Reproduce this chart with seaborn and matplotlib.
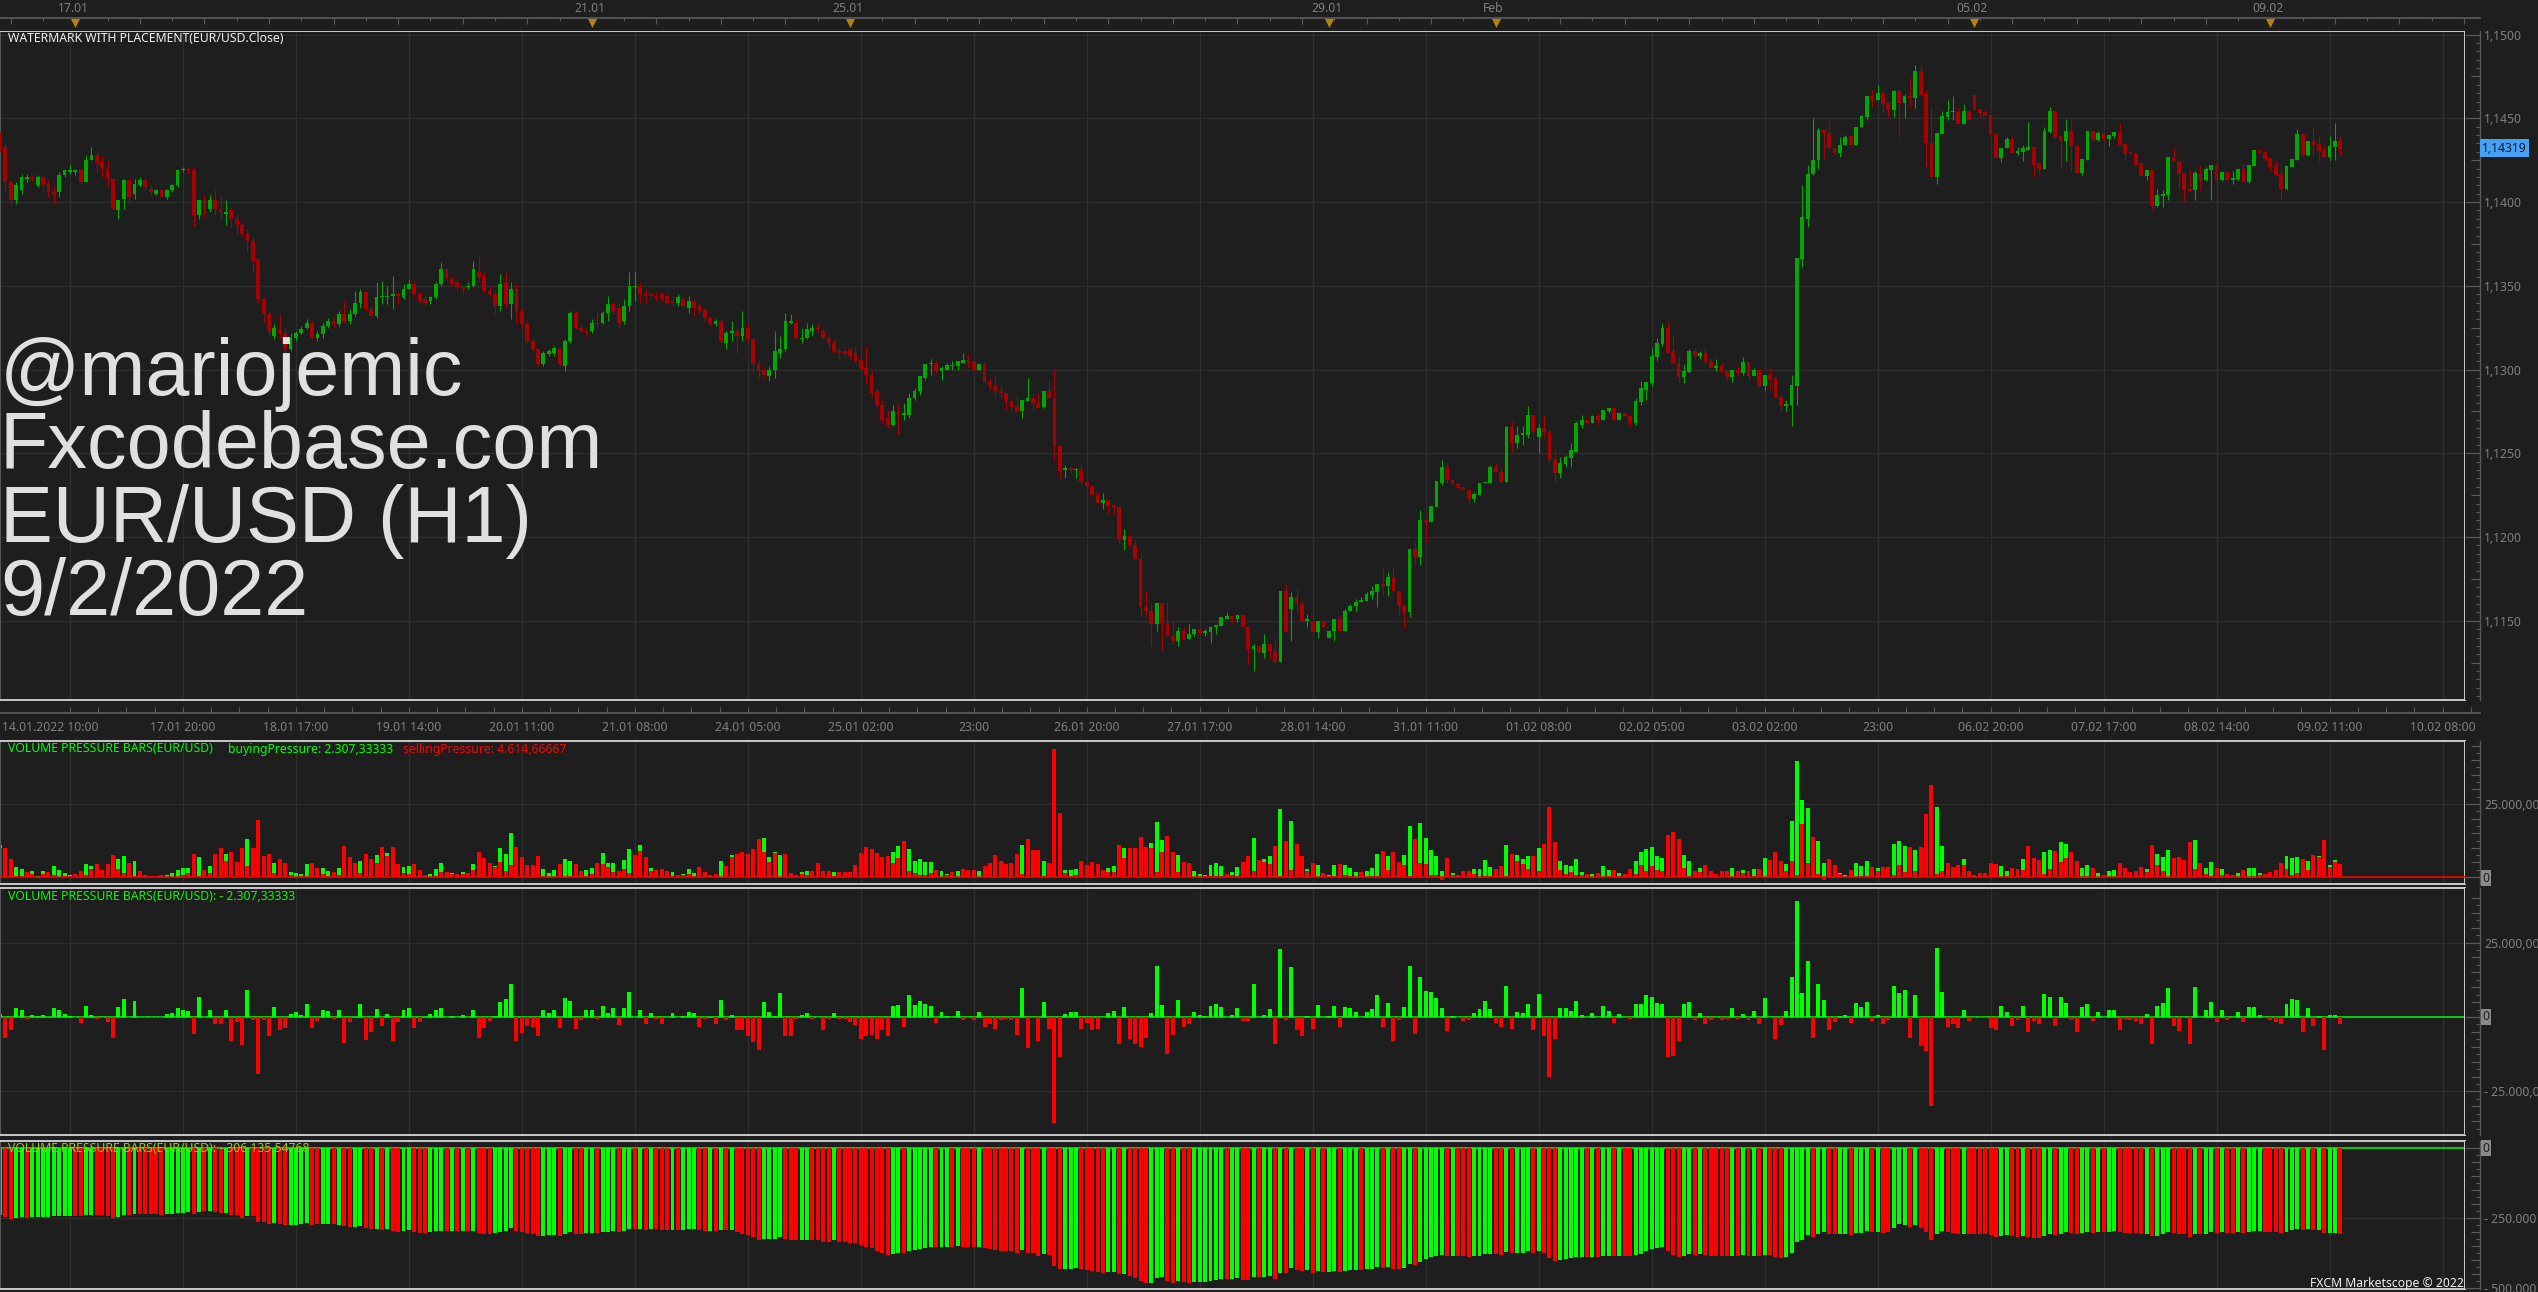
import numpy as np
import pandas as pd
import matplotlib
matplotlib.use("Agg")
import matplotlib.pyplot as plt
import seaborn as sns

# EUR/USD hourly candles, in pips above 1.1000
opens = [441,433,412,401,407,414,415,410,415,411,406,406,416,418,418,419,412,425,428,424,420,414,395,402,413,405,410,413,408,405,407,403,407,410,419,420,419,392,401,396,401,396,393,395,390,386,381,377,366,342,333,320,324,322,312,319,322,325,328,319,321,326,329,327,333,329,333,340,346,336,332,343,343,344,345,343,348,351,345,342,341,343,351,360,354,352,349,349,350,358,356,347,345,338,352,339,348,335,327,317,312,303,309,310,312,302,317,334,325,323,323,328,328,334,339,337,329,338,349,350,345,345,344,345,344,341,340,342,337,341,338,336,331,327,329,316,322,323,320,325,318,303,300,296,300,310,312,328,328,318,319,323,325,323,319,316,311,311,
 312,310,305.5,301,297,287,279,271,267,275,273,273,283,287,295,303,304,299,300,302,302,304,305.5,305,300,304,293,290,287,286,281,278,275,281,283,280,277.5,287,283,254.5,240,241,240,240,233,230.5,225.5,220.5,222,219,218,198,200.5,195.5,186.6,158,156,148,160.5,148.5,141,138,144,139,142,145,142.5,143,146,147,151,153,151,153.5,146,133,135,131,136,132,125.5,168,157,164,160,150,150,143.5,150,140,144,151,144,156,159,161,162,165.5,167,172,171,176,168,159,155,193,188,210,209,218,232,242,234,231.5,230,228,222.5,225,232,232,242,239,233,265.5,256,261,261,273,260,265,263,246,238,243.5,247,251,267,270,268,272,270,275,277,270,274,272.5,268,280.5,288,292,307.5,315,325,311,304,295.5,298.5,
 311,308,310,305,301,302,299,295.5,299.6,298,304.5,296,300,290,296.6,295,283.5,278,279,290,
 366,390,416.5,425,443,441.5,432,429,434,439.5,434,444.5,451,463,461,465,459,455,466,459,463,462,478,464.6,435,414.7,440.7,451,453.5,454,446.7,454.5,464,455.6,453.8,452,440.7,426.4,432,437.8,429.4,430,431.2,433,423,420,442,454.5,439.6,436.6,442.5,433.6,417.5,425.3,442.5,437,441.4,437.8,439.6,442,434.8,429.3,429.4,423,415.7,419.3,397.8,403.8,404.4,427,424.6,417.5,407.9,407.4,417.5,413.3,419.3,422.3,413.3,418,413.3,414,420,412,421.7,431,430,426.4,421.7,417,408,421,425.3,440.8,428.2,436.6,434.8,431.2,427,433,436.6]
closes = [433,412,401,410,415,415,414,415,410,406,405,416,419,419,419,412,425,428,423,420,414,396,401,413,403,411,413,409,406,407,403,407,410,419,420,419,392,401,396,401,396,394,394,390,386,381,377,365,342,333,323,325,322,312,319,322,324,328,319,321,326,329,327,333,329,333,340,346,336,332,343,344,344,345,344,348,351,345,341,340,343,351,360,354,351,349,348,350,360,355,347,345,338,351,339,348,335,327,317,312,303,310,311,313,303,317,334,325,323,322,328,327,334,339,335,328,338,350,350,345,344,344,343,342,340,340,343,338,341,337,335,331,327,329,317,322,323,320,325,318,303,300,297,300,311,312,329,329,319,319,324,325,324,319,316,311,310,309,
 308,305,300.5,297,286,279,270,267,275,273,274,283,287,296,303,304,299,301,302.5,302.5,305,305.5,304,300,303.5,292.5,290,287,286,281,277.5,275,282,283,279.5,277,287,283,254.5,239.5,241,240,240.5,233,230.5,225,220.5,222,218.7,218,198,200.5,195,186.6,158,156,148,160.5,148.5,141,138,144,139,142,145,142.5,144,146,147.5,152,153,151,153.5,146,133,135,131.5,136,132,125.5,167.5,143,164,160,150,151,143.5,150,146,144,151,144,156,159,161,162.5,166,168,172,171,176,168,159,155,193,188,210,209,218.5,233.5,242,234,231.5,229.5,228,222.5,225.5,232,233,242,239,233,265.5,256,261,262,273,263.5,265,262.5,246,238,244,248,252,268,270,268,272,270,276,277,270,274,272,268,281,289,292.5,308,316,325,310,304,295.5,299,311,
 308,310,304.5,301,302,298.5,295.5,299.6,298,304.5,296,300,290,296.6,294,283,278,279.3,290.6,366.4,
 391,417,425,443,441.5,432,429,434,439,434,445,451.5,463,461,465,458.6,455,466,459,463,462,478,464,435,414.7,441,451.5,454,454,446.7,454.5,449,455,453,451.5,440,426.4,432.4,437.8,429.4,430.6,432,433,422,420,442.5,454.5,438.4,436.6,442.5,433.6,417.5,425.8,442.5,437,441.4,437.8,440,442,434,428.8,428.9,422.3,415.5,419.3,397.8,404.4,405,427,424.6,416.9,407.4,406.7,417.5,413.3,419.9,422.3,413.3,418,413.3,414.5,420,412,422.3,431,429.4,425.8,421,416.3,408,421.7,425.8,440.8,428.2,436.6,434.2,430.6,427,433.6,436.6,431.9]
highs = [442,435,413,412,417,417,416,416,415,413,410,418,420,422,420,420,428,433,430,428,425,414,401,414,414,414,415,414,410,408,408,408,411,420,421,421,421,401,404,404,407,404,401,397,392,388,384,380,366,343,335,327,333,325,322,323,326,330,329,323,328,331,331,335,341,336,347,348,347,338,352,353,350,356,346,351,354,353,347,344,344,352,364,360,356,353,350,352,365,368,358,350,347,357,358,352,351,337,329,319,312,311,312,314,313,318,335,335,327,325,330,335,335,344,340,340,342,358,358,352,348,346,346,346,345,344,345,344,344,342,340,337,332,330,330,323,329,325,335,328,319,305,301,302,323,320,334,333,330,325,328,327,328,325,321,318,313,312,
 313,314,314,314,299,289,282,276,279,280,280,286,289,296,303,306,305,302,304,305,305,310,309,305,304,304,295,296,290,286,282,284,282,295,286,286,287,293,300,254.5,243,241,241,243,233,230.5,227,226,222,220,218,205,202,199,191,168,160,160.5,160.5,161,150,146,146,148,145,145,145,146,147.5,152,155,153,153.5,153.5,146,136,135,142,136,140,167.5,172,167,169,162,154,154,150,150,144,151,153,157,160,163,164,167,171,172,182,179,182,168,160,193,197,216,210,218.5,233.5,246,244,234,232,230,228,227,232,233,243,244,241,266.5,269,266,266,278,273,267.5,273,264,252.5,248,249,256,269,273,270,273,274,276,277,277,274.5,274.5,273,283,293,292.5,313,319,328,329,320,308,303,312,
 313,311,313,307,306,304,299,299.6,302,307.5,304.5,301,300,296.6,301,296,285,281.7,297,366.4,
 410,422,450,444,443,448.5,432,438.6,440,440,445,452,463,467,470,466,460,467,466,464.5,474,482,481,467,456.5,441,454.5,461,463,456.7,458.7,454.5,464,455.6,455,452,440.7,432.4,439,439,433,434,448,433,423,444.8,457,454.5,439.6,449.7,449.7,433.6,425.8,442.5,442.5,442.5,441.4,440,442,447,434.8,429.5,429.4,423,419.3,420,408,407.4,427,432.3,424.6,417.5,418.7,418.7,422.3,421,422.3,422.3,418.7,418,418.7,420,423,422.3,431,431,430,426.4,424.6,419.7,421.7,425.8,443.8,440.8,436.6,445,439.6,433.6,439.6,447,439.6]
lows = [430,407,398,399,405,412,412,409,406,403,399,403,415,417,416,411,412,425,418,415,409,395,390,396,399,402,409,407,404,404,403,402,406,409,418,417,385,390,391,394,392,390,386,385,381,379,370,358,340,328,320,318,318,309,311,317,321,324,318,317,319,325,325,326,328,327,332,337,335,331,331,339,339,336,339,342,348,344,340,338,339,342,350,353,350,347,345,348,349,352,346,343,333,335,337,330,328,325,316,311,302,302,308,308,302,299,316,324,322,320,322,325,327,329,333,325,327,335,341,340,340,342,341,341,339,338,338,337,334,332,334,329,326,326,316,312,317,310,317,317,298,295,295,293,295,307,311,327,318,316,318,320,322,318,312,310,306,307,
 306,304,299,292,283,277,268,265,266,261,270,271,282,285,294,297,298,294,300,300,300,304,301,300,300,292,288,283,283,276,275,275,271,281,276,277,277,283,246,235,235,238,235,231,230,225,220,217,214,214,196,192,194,186,152,153,135,144,132,141,136,135,139,139,141,142,141,137,142,147,151,149,149,146,124,120,131,128,127,125,125.5,143,138,155,150,146,143.5,140,146,140,138,144,144,156,156,161,162,163,158,165,165,167,153,145,152,183,183,197,209,218,231,232,231,229,228,220,221,225,232,232,239,233,233,251,253,255,259,258,250,259,245,233,235,242,242,251,265,268,268,267,270,274,270,270,272,266,267,279,282,290,305,314,310,303,292,292,298,
 306,306,303,301,299,298,294,292.5,297,297,294,296,289,288,288,283,275.5,275,266,279,
 361,385,416,419.6,425.6,431.6,428,427,434,434,434,444.5,449,457,461,453,451,451,439,450,456,456,464,421,414.7,411,440.7,449,449,446.7,446.7,449,455,451,451.5,440,426.4,424,432,429.4,428,424.4,431.2,414.7,416,420,441.5,438.4,420,424.6,418.5,417.5,416,425,435.6,436.4,436.6,433.4,438,434,425.8,428.5,421.7,414.7,413.3,395.5,397.2,397.2,401,424.6,408.3,400,406.7,401.5,407.4,412.7,401,413.3,412.7,413.3,410.9,413.3,412,411.5,421.7,429.4,424.6,418.7,416.3,402,407.4,421,425.3,427.6,427.6,427.6,424.6,427,425.2,425.2,428.2]

# Tallest column of each hour in the pressure panel, in thousands
peak_pressure = [11,10,6.3,3.4,2.7,1.6,1.9,.3,1.9,1.6,3.9,2.5,1.4,.8,1,2.2,4.6,3.6,4.6,2.5,4.6,7.6,6.3,7.3,4.9,5.6,2.2,.6,.5,.2,.8,.8,1.4,2.5,3.2,3.2,8,7,2.5,3.9,8,10,8,8.7,5.3,10,13,10,19.6,7.3,8,4.9,6.3,4.9,1.8,1.4,1.1,4.6,4.9,3.2,3.2,2.2,1.8,3.2,10.7,7,4.9,5.6,8,6.3,7.6,10.4,8.3,10.4,4.6,3.5,3.9,4.6,2.5,.8,1.1,2.7,4.9,1.8,1.5,1.1,1.8,1.4,4.6,8.7,6.6,4.9,3.9,10,8,15.2,10.4,7,4.2,4.2,7.3,2.9,1.5,2.5,4.6,6.3,5.6,4.6,2.2,2.5,3.2,4.9,8.3,4.9,4.9,2.2,5.9,9.7,7.6,11,7,3.2,2.5,2.9,2.2,1.8,.8,1.1,2.9,1.5,3.5,1.8,.8,1.1,5.6,3.9,7.6,8,8.7,8,9.7,13,13.5,7,8.7,7.6,8,1.5,.8,1.8,2.2,2.2,4.9,2.2,2,1.8,1.8,1.8,
 1.8,
 4.1,8.3,10.2,9.5,8.3,6.7,7.2,8.4,10.5,12.2,9.5,5.4,6,5,5,2.3,1.9,1.1,1.6,1.9,2.6,2.3,2.3,1.9,3.7,4.7,7.4,5.4,4.3,4.7,7.8,10.8,12.9,9.1,9.1,5.4,4.7,44,21.8,2.3,2.3,2.6,5.4,4,5,4.3,2.3,3,3.7,10.8,9.8,9.8,9.8,13.6,10.2,11.5,18.7,12.6,13.9,8.4,7.4,5,4.7,1.9,.9,.8,4,4.7,3.7,.9,1.6,3.3,5,7.1,13.2,5.7,6,7.1,10.5,23.2,12.2,19.1,11.2,7.1,2.6,4.7,4,1.3,.6,4,4.3,4,3.2,1.6,1.6,1.9,3,7.8,8.8,7.1,8.4,5,7.4,17.4,12.9,18.4,13.2,9.1,7.1,1.9,6.4,1.3,.8,1.9,2,2.6,2.6,5.7,3.3,2.6,3.7,10.8,7.8,7.4,6,7.1,7.1,9.8,11.2,23.9,11.9,5.4,4,3.7,6,1.6,.9,.9,1.5,3.7,2.3,2.3,1.3,.9,2.6,5.4,8.4,9.5,10.2,7.1,6.4,14.3,15.3,12.9,7.4,5.4,1.9,3,4,1.9,.9,1.9,1.9,3,1.9,2.3,1.9,2.6,2.6,6.4,5.7,8.4,5.4,4.3,19.1,39.6,26.3,23.5,13.6,12.2,4.7,6,4,1.3,.8,2.3,4.7,3.7,5.4,3.3,3,3.3,3.3,11.2,
 12.4,10.7,10.4,9.4,10.4,21.7,31.6,24.1,10.7,4.9,3.5,4.2,6.3,2.2,.8,1.5,1.5,4.9,4.6,3.9,2.2,3.2,2.9,6.3,10.7,6.6,5.9,8.7,9.4,9,12.1,11.4,8.7,5.6,3.2,4.2,3.2,1.5,.8,2.2,2.5,4.9,3.2,1.8,2.2,3.5,2.9,11.1,8,7,9.4,6.6,7,5.9,12.1,12.8,4.9,3.2,5.3,3.2,2.9,1.1,.8,1.5,2.5,3.2,3.2,1.5,1.1,1.8,2.5,4.9,7.3,6.6,7,6.3,5.6,7.6,7.3,12.8,4.2,5.9,4.61467]

# Buying minus selling pressure for each hour, in thousands
net_pressure = [1,-7.2,-4.2,3,2.5,-.8,.8,.5,.8,0,3.1,2.5,1.1,.5,-.2,-1.9,3.8,.8,-.8,-.3,-1.6,-6.9,3.4,6,-.3,5.4,-.3,-.3,-.3,-.3,-.5,.9,1.4,2.9,2.5,1.9,-5.6,6.8,-.2,2.5,-2.2,-2.5,2.5,-8.2,-1.6,-9.5,9.1,-.9,-19,-1.1,-6.3,3.5,-4.5,-3.6,1.1,1.8,.8,4.5,-3.6,-1.5,2.2,1.9,-.8,2.5,-8.6,-1.6,.1,4.2,-7.6,-5.2,2.8,-2.9,1.1,-7.9,-1.6,2.2,2.9,-3.8,-1.8,-.1,1.1,2.5,3.1,-.5,.5,-.2,.8,-.2,2.3,-6.9,-3.6,-1.2,.5,4.9,6.1,11,-7.9,-5.5,-3.1,-3.2,-6.5,2.5,1.4,2.5,-3.6,6.5,5.4,-3.9,-1.1,2.2,2.2,-.8,3.8,1.4,3.1,-2.6,3.1,8.5,-.2,2.2,-2.2,1.2,-.8,-2.5,-.2,1.5,-.5,.5,1.8,1.2,-3.2,-.8,0,-2.5,5.8,-.9,.8,-4.5,-4.2,-6.5,-8.5,-11.1,4.9,1.8,.5,8.1,-6.3,-6.3,-.8,.8,1.5,-.8,-.3,-4.5,-.8,1.5,-.8,-.8,
 -1.8,
 -2.8,-7.5,-6.5,-6,-7.5,-4.2,-6.5,3.7,4.1,-3.2,7.4,4.1,5.4,4.4,3.8,-1.9,1.8,.5,-.2,2.1,-1.1,-.5,-1,1.8,-3.2,-2.3,-3.9,-1.1,-.7,-1,-6.1,9.8,-10.5,-.3,-7.9,5,-3.9,-35.5,-13.5,1,1.8,1.8,-3.9,-1.9,-4.5,-3.9,-.2,1.4,2.1,-9.2,3.4,-7.5,-9.2,-10.1,-6.9,1.4,17,4.1,-12.5,-6.2,5.8,-3.5,-2.5,1.8,.8,.5,3.8,4.5,3.4,-.3,.8,2.9,-1.5,-1.5,11,-.2,.8,2.8,-9.2,22.7,-.9,16.7,-4.5,-6.5,.4,-3.9,4.1,-.2,.4,3.8,-3.5,3.4,2.9,1.8,-.2,1.8,2.8,7.4,-3.2,4.7,-7.9,-1.1,3.4,17,-5.8,13.5,8.7,8.4,6.4,3,-4.8,.5,-.2,-1.4,-1,1.5,2.8,5.4,2.8,-1.9,-3.2,10.5,-3.9,1.8,1.4,4.4,-4.5,7.8,-6.5,-20,-7.5,3.1,3.1,2.1,5.4,.8,-.2,1.4,-.2,3.8,2.1,-1.9,1.1,-.2,-.8,4.4,4.4,7.4,6.6,4.7,4.4,-13.4,-13.2,-8.1,4.4,5.1,-1.1,1.4,-2.5,-1,-.2,-1.1,-.8,3.1,-.8,1.1,-1,2.1,-2.5,6.4,-.2,-7.5,-2.8,2.1,13.5,39,8.1,18.7,-7.2,11.2,5.8,-4.5,-1.8,.4,.8,-1.9,4.8,3.4,5.1,-1.5,.8,-2.5,-1,10.5,
 8.2,9.1,-6.9,7.4,-9.9,-11.5,-30,23,8.5,-3.3,-2.2,-3.6,2.2,-1.2,-.3,-.3,-.3,-3.8,-4.2,3.8,1.8,-2.9,-.9,3.8,-5.1,-1.2,-2.5,7.8,6.8,-3.1,6.8,4.8,-1.1,-4.9,3.4,4.5,-1.5,1.8,-.3,2.2,2.5,-4.2,-.8,-.9,-1.2,-2.5,1.1,-9.2,3.8,4.8,9.6,-2.9,-4.8,-.2,-9.2,10.1,-.5,2.2,5.1,-1.8,2.2,-.9,-.3,1.8,-1.8,3.4,3.4,.8,-.5,-1.1,-1.8,-2.2,4.4,6,5.8,-5.1,3.1,-2.9,.4,-11.1,.8,.8,-2.30733]

# Running pressure level, in thousands
pressure_level = [240,245,252,249,245,249,245,245,245,245,242,242,242,242,242,242,239,239,238,239,242,249,245,239,240,236,234,234,234,234,237,234,234,231,231,227,234,227,226,226,227,230,231,238,240,249,242,242,263,263,270,267,270,274,274,274,270,268,274,270,270,270,270,274,277,281,281,277,284,288,288,292,288,295,299,295,292,299,302,302,299,295,295,295,295,295,295,295,295,302,306,306,302,299,295,284,295,299,302,306,313,313,309,309,313,306,299,306,306,302,302,302,299,299,295,299,295,288,288,288,292,288,288,292,292,292,292,292,288,288,292,295,295,295,292,292,292,299,306,309,317,327,324,324,324,317,324,327,327,327,327,327,327,334,334,327,334,334,
 338,338,344,352,355,367,374,382,378,375,375,368,364,361,357,353,353,353,353,352,350,352,353,353,353,357,361,364,368,368,368,375,364,375,375,384,378,382,421,432,432,432,428,432,436,439,443,446,443,443,450,450,457,464,475,482,482,464,461,475,482,475,478,482,478,478,478,475,471,468,468,468,464,471,471,461,461,461,457,468,446,446,428,436,439,436,446,439,443,443,439,443,439,436,436,436,432,432,425,428,424,432,432,428,414,418,407,396,389,386,382,386,386,386,386,389,386,386,378,378,378,382,371,375,375,375,368,375,368,375,393,403,400,396,393,389,389,389,389,389,386,383,386,386,386,386,382,378,368,361,357,353,368,382,389,386,378,382,378,382,386,386,386,386,386,386,382,386,386,386,382,382,389,393,389,375,336,328,311,318,307,300,307,307,307,307,311,303,303,296,300,300,303,300,286,
 270,274,281,274,284,299,327,306,295,299,302,306,306,306,306,306,306,309,317,313,309,313,317,313,317,320,320,313,306,309,306,299,302,306,302,299,302,299,299,299,295,299,302,302,302,306,306,313,313,306,299,302,306,306,317,306,306,306,299,302,299,302,302,299,302,299,295,295,299,299,299,302,299,292,288,292,288,292,292,302,302,302,306.13555]

# Axis text
date_labels = ["17.01 20:00","18.01 17:00","19.01 14:00","20.01 11:00","21.01 08:00","24.01 05:00","25.01 02:00","23:00","26.01 20:00","27.01 17:00","28.01 14:00","31.01 11:00","01.02 08:00","02.02 05:00","03.02 02:00","23:00","06.02 20:00","07.02 17:00","08.02 14:00","09.02 11:00","10.02 08:00"]
event_bars = [14,110,158,247,278,367,422]
event_labels = ["17.01","21.01","25.01","29.01","Feb","05.02","09.02"]
price_ticks = [1.15,1.145,1.14,1.135,1.13,1.125,1.12,1.115]
watermark = ["@mariojemic","Fxcodebase.com","EUR/USD (H1)","9/2/2022"]

W, H = 2538, 1292
BG = "#1e1e1e"
GRID = "#2e2e2e"
FRAME = "#d6d6d6"
AXIS = "#5a5a5a"
LABEL = "#808080"
UP, DOWN = "#00a800", "#a80000"
BUY, SELL = "#00ff00", "#ff0000"
PX_PER_BAR = 5.38
UI = ["Noto Sans", "DejaVu Sans"]
UI_SIZE = 8.8

sns.set_theme(style="dark", rc={"axes.facecolor": BG, "figure.facecolor": BG, "savefig.facecolor": BG})
plt.rcParams["font.family"] = UI

o, c, hi, lo = (np.array(a, float) for a in (opens, closes, highs, lows))
bars = np.arange(len(o))
net = np.array(net_pressure, float)
peak = np.array(peak_pressure, float)
level = np.array(pressure_level, float)
selling = np.where(net > 0, peak - net, peak)
buying = np.clip(selling + net, 0, None)
grid_bars = np.arange(13, 460, 21)
bar_limit = (0, 2465 / PX_PER_BAR)

fig = plt.figure(figsize=(W / 100, H / 100), dpi=100)


def box(left, top, right, bottom, **kw):
    return fig.add_axes([left / W, 1 - bottom / H, (right - left) / W, (bottom - top) / H], **kw)


def fx(x):
    return x / W


def fy(y):
    return 1 - y / H


def panel(top, bottom, lo_val, hi_val, yticks):
    ax = box(0, top, 2465, bottom)
    ax.set_facecolor(BG)
    ax.set_ylim(lo_val, hi_val)
    return ax


def finish_panel(ax, yticks):
    ax.set_xlim(*bar_limit)
    ax.set_ylim(ax.get_ylim())
    ax.set_xticks(grid_bars)
    ax.set_yticks(yticks)
    ax.set_xlabel("")
    ax.set_ylabel("")
    ax.tick_params(length=0, labelbottom=False, labelleft=False)
    ax.set_axisbelow(True)
    ax.grid(True, color=GRID, lw=0.9)
    for s in ax.spines.values():
        s.set_color(FRAME)
        s.set_linewidth(1.3)
    ax.spines["left"].set_color("#555555")
    ax.spines["left"].set_linewidth(0.8)


def side_scale(top, bottom, ylim, majors, labels, minors, mids):
    ax = box(2465, top, 2480, bottom)
    ax.set_facecolor(BG)
    ax.set_xlim(0, 1)
    ax.set_ylim(*ylim)
    ax.set_xticks([])
    for name in ("top", "bottom", "left"):
        ax.spines[name].set_visible(False)
    ax.spines["right"].set_color(AXIS)
    ax.spines["right"].set_linewidth(1)
    ax.yaxis.tick_right()
    ax.set_yticks(majors)
    ax.set_yticklabels(labels)
    ax.set_yticks(minors, minor=True)
    ax.tick_params(axis="y", which="major", direction="in", length=10.8, width=0.9, color=AXIS,
                   labelcolor=LABEL, labelsize=UI_SIZE, pad=3)
    ax.tick_params(axis="y", which="minor", direction="in", length=3, width=0.8, color=AXIS)
    ax.hlines(mids, 0.4, 1, color=AXIS, lw=0.8)
    return ax


def pressure_bars(ax, frame):
    sns.barplot(data=frame, x="bar", y="value", hue="side", hue_order=["buy", "sell"],
                palette={"buy": BUY, "sell": SELL}, native_scale=True, dodge=False, saturation=1,
                width=0.74, linewidth=0, legend=False, errorbar=None, ax=ax)


# Candlestick panel
ax_price = panel(31, 700, 1.11027, 1.15021, price_ticks)
price = lambda a: 1.1 + a / 1e4
rising = c >= o
for mask, colour in ((rising, UP), (~rising, DOWN)):
    ax_price.vlines(bars[mask], price(lo[mask]), price(hi[mask]), color=colour, lw=0.8, zorder=3)
    low_edge = np.minimum(o[mask], c[mask])
    height = np.maximum(np.abs(c[mask] - o[mask]), 0.7) / 1e4
    ax_price.bar(bars[mask], height, bottom=price(low_edge), width=0.7, color=colour, linewidth=0, zorder=4)
finish_panel(ax_price, price_ticks)

# Buying and selling columns
ax_vol = panel(741, 884, -2397, 46575, [25000])
vol_frame = pd.DataFrame({
    "bar": np.r_[bars, bars],
    "value": np.r_[buying, selling] * 1000,
    "side": ["buy"] * len(bars) + ["sell"] * len(bars),
})
pressure_bars(ax_vol, vol_frame)
ax_vol.axhline(0, color=SELL, lw=1.1, zorder=5)
finish_panel(ax_vol, [25000])

# Net pressure columns
ax_net = panel(888, 1135, -39600, 43290, [-25000, 25000])
net_frame = pd.DataFrame({
    "bar": bars,
    "value": net * 1000,
    "side": np.where(net >= 0, "buy", "sell"),
})
pressure_bars(ax_net, net_frame)
ax_net.axhline(0, color=BUY, lw=1.1, zorder=0.9)
finish_panel(ax_net, [-25000, 25000])

# Running level columns
ax_level = panel(1140.5, 1289, -502000, 26800, [-250000])
level_frame = pd.DataFrame({
    "bar": bars,
    "value": -level * 1000,
    "side": np.where(net >= 0, "buy", "sell"),
})
pressure_bars(ax_level, level_frame)
ax_level.axhline(0, color=BUY, lw=1.1, zorder=0.9)
finish_panel(ax_level, [-250000])

# Scales down the right side
side_scale(31, 700, ax_price.get_ylim(), price_ticks, [f"{t:.4f}".replace(".", ",") for t in price_ticks],
           np.arange(1.1105, 1.15, 0.0005), np.arange(1.1125, 1.15, 0.005))
vol_minor = np.arange(2500, 46000, 2500)
side_scale(741, 884, ax_vol.get_ylim(), [25000, 0], ["25.000,00", ""], vol_minor, np.arange(5000, 46000, 5000))
net_minor = np.arange(-37500, 42000, 2500)
side_scale(888, 1135, ax_net.get_ylim(), [25000, 0, -25000], ["25.000,00", "", "- 25.000,00"],
           net_minor, np.arange(-35000, 42000, 5000))
level_minor = np.arange(-475000, 0, 25000)
side_scale(1140.5, 1289, ax_level.get_ylim(), [0, -250000, -500000], ["", "- 250.000", "- 500.000"],
           level_minor, np.arange(-450000, 0, 50000))

# Time ruler under the candles
ruler = box(0, 701, 2480, 713)
ruler.set_facecolor(BG)
ruler.set_xlim(0, 2480 / PX_PER_BAR)
ruler.set_ylim(0, 1)
ruler.set_yticks([])
for name in ("top", "left", "right"):
    ruler.spines[name].set_visible(False)
ruler.spines["bottom"].set_color(AXIS)
ruler.set_xticks(grid_bars)
ruler.set_xticklabels([""] + date_labels + [""] * (len(grid_bars) - len(date_labels) - 1))
ruler.set_xticks(np.arange(0, 461, 21 / 8), minor=True)
ruler.tick_params(axis="x", which="major", direction="in", length=8.6, width=0.9, color=AXIS,
                  labelcolor=LABEL, labelsize=UI_SIZE, pad=6)
ruler.tick_params(axis="x", which="minor", direction="in", length=2.8, width=0.8, color=AXIS)
ruler.vlines(np.arange(13, 460, 21 / 4), 0, 0.5, color=AXIS, lw=0.8)
ruler.text(0.3, -1.2, "14.01.2022 10:00", color=LABEL, fontsize=UI_SIZE, va="center", ha="left")

# Event ruler above the candles
events = box(0, 18, 2480, 31)
events.set_facecolor(BG)
events.set_xlim(0, 2480 / PX_PER_BAR)
events.set_ylim(0, 1)
events.set_yticks([])
for name in ("bottom", "left", "right"):
    events.spines[name].set_visible(False)
events.spines["top"].set_color(AXIS)
events.xaxis.tick_top()
events.set_xticks(np.arange(2, 460, 12))
events.set_xticklabels([])
events.set_xticks(np.arange(8, 460, 12), minor=True)
events.tick_params(axis="x", which="major", direction="in", length=4.4, width=0.8, color=AXIS)
events.tick_params(axis="x", which="minor", direction="in", length=2.5, width=0.8, color=AXIS)
events.scatter(event_bars, [0.62] * len(event_bars), marker="v", s=42, color="#b5820f", linewidth=0, zorder=5)
for bar, name in zip(event_bars, event_labels):
    events.text(bar - 0.4, 1.72, name, color=LABEL, fontsize=UI_SIZE, ha="center", va="center")

# Indicator captions
fig.text(fx(8), fy(39), "WATERMARK WITH PLACEMENT(EUR/USD.Close)", color="#f0f0f0", fontsize=UI_SIZE, va="center")
fig.text(fx(8), fy(749), "VOLUME PRESSURE BARS(EUR/USD)", color=BUY, fontsize=UI_SIZE, va="center")
fig.text(fx(228), fy(749), "buyingPressure: 2.307,33333", color=BUY, fontsize=UI_SIZE, va="center")
fig.text(fx(403), fy(749), "sellingPressure: 4.614,66667", color=SELL, fontsize=UI_SIZE, va="center")
fig.text(fx(8), fy(896), "VOLUME PRESSURE BARS(EUR/USD): - 2.307,33333", color=BUY, fontsize=UI_SIZE, va="center")
fig.text(fx(8), fy(1148), "VOLUME PRESSURE BARS(EUR/USD): - 306.135,54768", color="#9ac81e", fontsize=UI_SIZE, va="center")
fig.text(fx(2464), fy(1284), "FXCM Marketscope © 2022", color="#f0f0f0", fontsize=UI_SIZE, va="center", ha="right")

# Large overlay text on the candles
for line, baseline in zip(watermark, (395, 468, 542, 615)):
    fig.text(fx(0), fy(baseline), line, color="#e0e0e0", fontsize=57, family="Liberation Sans", va="baseline")

# Last price tag and zero markers on the scales
fig.text(fx(2504.5), fy(148), "1,14319", color="#0a1a2a", fontsize=UI_SIZE, ha="center", va="center",
         bbox=dict(facecolor="#46a0f5", edgecolor="none", pad=1.6))
for y in (878, 1017, 1148):
    fig.text(fx(2486), fy(y), "0", color="#1e1e1e", fontsize=UI_SIZE, ha="center", va="center",
             bbox=dict(facecolor="#8a8a8a", edgecolor="none", pad=1.0))

fig.savefig("out.png", dpi=100)
